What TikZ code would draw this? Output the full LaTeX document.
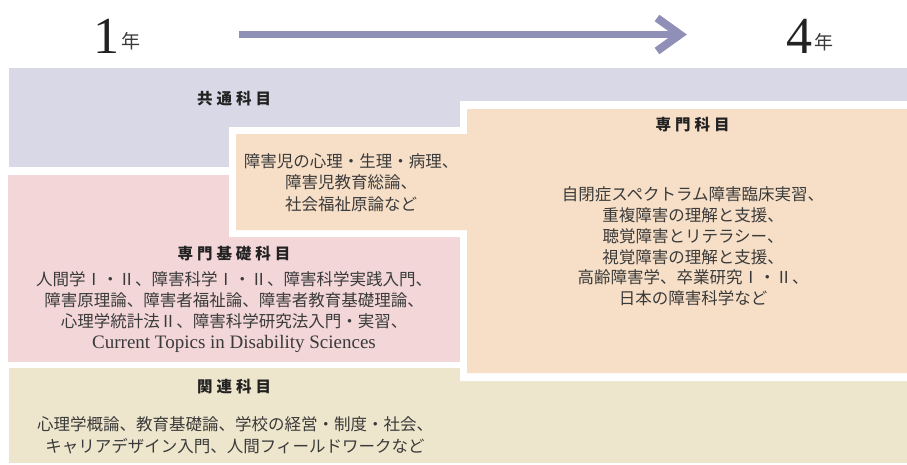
\documentclass[tikz,border=0pt]{standalone}
\usepackage{fontspec}
\setmainfont{Liberation Serif}
\newfontfamily\jp{Noto Sans CJK JP}
\newfontfamily\lat{Liberation Serif}
\usetikzlibrary{calc}
\definecolor{cpurple}{RGB}{216,216,230}
\definecolor{cpink}{RGB}{242,214,216}
\definecolor{corange}{RGB}{247,223,199}
\definecolor{cbeige}{RGB}{238,230,204}
\definecolor{carrow}{RGB}{143,143,184}
\definecolor{headc}{RGB}{34,34,34}
\definecolor{bodyc}{RGB}{58,58,58}
\newcommand\tk{\hspace{4pt}}
\begin{document}
\begin{tikzpicture}[x=1pt,y=-1pt,
  every node/.style={inner sep=0pt,outer sep=0pt},
  head/.style={font=\jp\bfseries\fontsize{15.5}{18}\selectfont,text=headc},
  body/.style={font=\jp\fontsize{16.5}{21.5}\selectfont,text=bodyc,align=center},
  digit/.style={font=\lat\fontsize{52}{52}\selectfont,text=headc,anchor=base},
  nen/.style={font=\jp\fontsize{19}{19}\selectfont,text=bodyc,anchor=base},
  shaft/.style={draw=carrow,line width=7pt},
  chevron/.style={draw=carrow,line width=8pt,miter limit=10}]
\useasboundingbox (0,0) rectangle (907,464);
% background bands
\fill[cpurple] (9,68) rectangle (907,167);
\fill[cpink] (8,175) rectangle (460,362);
\fill[cbeige] (9,368) rectangle (907,463);
% specialist area with white frame
\fill[white] (229,127) -- (460,127) -- (460,101) -- (907,101) -- (907,381)
  -- (460,381) -- (460,237) -- (229,237) -- cycle;
\fill[corange] (236,134) -- (467,134) -- (467,109) -- (907,109) -- (907,373)
  -- (467,373) -- (467,230) -- (236,230) -- cycle;
% year labels
\node[digit] (y1) at (106,53) {1};
\node[nen] (n1) at (131,48.5) {年};
\node[digit] (y4) at (799.5,53) {4};
\node[nen] (n4) at (823.5,49) {年};
% arrow
\coordinate (as) at (239,34.5);
\coordinate (ae) at (680,34.5);
\draw[shaft] (as) -- (ae);
\draw[chevron] ($(ae)+(-23,-16.5)$) -- (ae) -- ($(ae)+(-23,16.5)$);
% headings
\node[head] (kyotsu) at (234,98.5) {共\tk 通\tk 科\tk 目};
\node[head] (senmon) at (692.5,125) {専\tk 門\tk 科\tk 目};
\node[head] (kiso) at (234,254) {専\tk 門\tk 基\tk 礎\tk 科\tk 目};
\node[head] (kanren) at (234,387) {関\tk 連\tk 科\tk 目};
% bodies
\node[body] (smallbody) at (351,182.5) {障害児の心理・生理・病理、\\障害児教育総論、\\社会福祉原論など};
\node[body,font=\jp\fontsize{16.5}{20.8}\selectfont] (kisobody) at (234,312)
  {人間学Ⅰ・Ⅱ、障害科学Ⅰ・Ⅱ、障害科学実践入門、\\障害原理論、障害者福祉論、障害者教育基礎理論、\\心理学統計法Ⅱ、障害科学研究法入門・実習、\\{\lat\fontsize{19}{20.8}\selectfont Current Topics in Disability Sciences}};
\node[body,font=\jp\fontsize{16.5}{20.8}\selectfont] (senmonbody) at (693,246.5)
  {自閉症スペクトラム障害臨床実習、\\重複障害の理解と支援、\\聴覚障害とリテラシー、\\視覚障害の理解と支援、\\高齢障害学、卒業研究Ⅰ・Ⅱ、\\日本の障害科学など};
\node[body,font=\jp\fontsize{16.5}{22}\selectfont] (kanrenbody) at (235,435.5)
  {心理学概論、教育基礎論、学校の経営・制度・社会、\\キャリアデザイン入門、人間フィールドワークなど};
\end{tikzpicture}
\end{document}
